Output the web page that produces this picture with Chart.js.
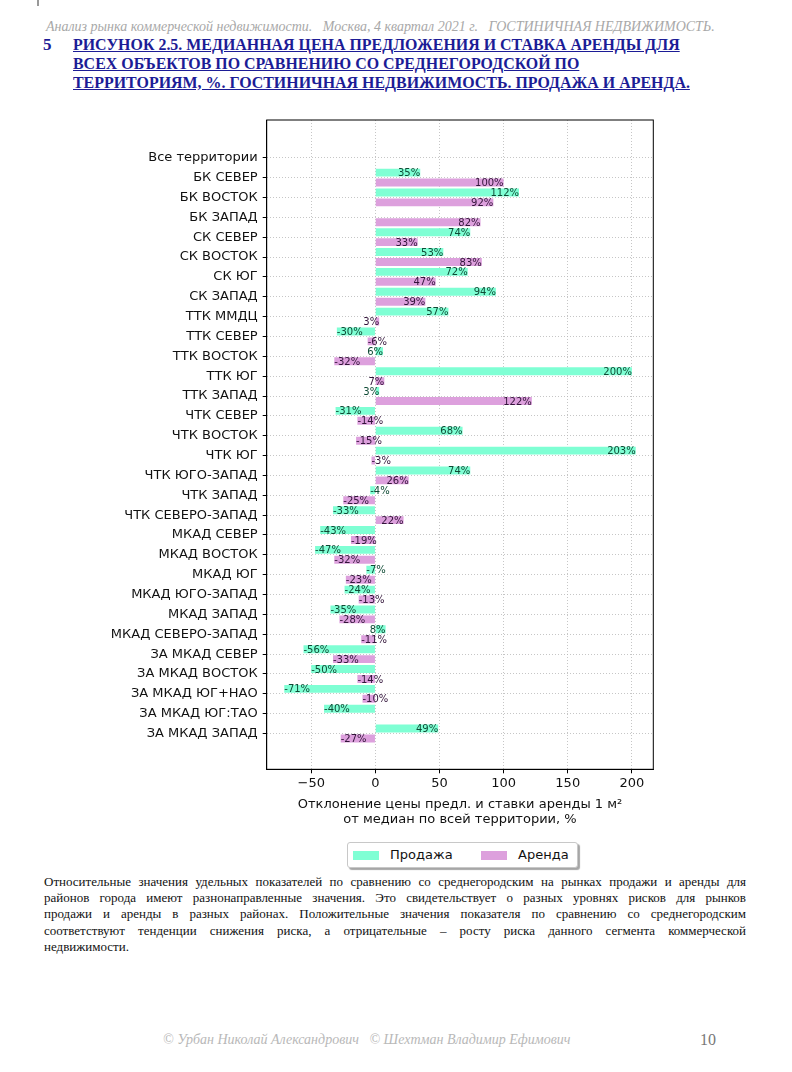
<!DOCTYPE html>
<html>
<head>
<meta charset="utf-8">
<script src="https://cdn.jsdelivr.net/npm/chart.js@4.4.1/dist/chart.umd.min.js"></script>
<style>
  body { margin: 0; background: #fff; }
  #page { position: relative; width: 792px; height: 1072px; overflow: hidden; }
  .mark { position: absolute; left: 37px; top: 0; width: 2px; height: 6px; background: #999; }
  .hdr { position: absolute; left: 46px; top: 19px; font: italic 14px "Liberation Serif", serif; color: #a8a8a8; white-space: pre; }
  .num { position: absolute; left: 43px; top: 35px; font: bold 17px "Liberation Serif", serif; color: #1c1c96; }
  .ttl { position: absolute; left: 73px; top: 35px; font: bold 17px "Liberation Serif", serif; color: #1c1c96; line-height: 19px; text-decoration: underline; white-space: pre; transform: scaleX(0.937); transform-origin: 0 0; }
  #wrap { position: absolute; left: 100px; top: 100px; width: 580px; height: 740px; }
  .legend { position: absolute; left: 347px; top: 842px; width: 229px; height: 24px; border: 1px solid #c8c8c8; border-radius: 3px; box-shadow: 2px 2px 1px rgba(0,0,0,0.35); background: #fff; font: 13px "DejaVu Sans", sans-serif; color: #111; }
  .sw { position: absolute; top: 8px; width: 26px; height: 9px; }
  .lt { position: absolute; top: 4px; }
  .para { position: absolute; left: 44px; top: 874px; width: 702px; font: 13px "Liberation Serif", serif; color: #111; line-height: 16.2px; }
  .para div { text-align: justify; text-align-last: justify; white-space: nowrap; }
  .para div.last { text-align-last: left; }
  .foot { position: absolute; left: 163px; top: 1032px; font: italic 14px "Liberation Serif", serif; color: #b8b8b8; white-space: pre; }
  .pg { position: absolute; left: 700px; top: 1031px; font: 16px "Liberation Serif", serif; color: #777; }
</style>
</head>
<body>
<div id="page">
  <div class="mark"></div>
  <div class="hdr">Анализ рынка коммерческой недвижимости.   Москва, 4 квартал 2021 г.   ГОСТИНИЧНАЯ НЕДВИЖИМОСТЬ.</div>
  <div class="num">5</div>
  <div class="ttl">РИСУНОК 2.5. МЕДИАННАЯ ЦЕНА ПРЕДЛОЖЕНИЯ И СТАВКА АРЕНДЫ ДЛЯ
ВСЕХ ОБЪЕКТОВ ПО СРАВНЕНИЮ СО СРЕДНЕГОРОДСКОЙ ПО
ТЕРРИТОРИЯМ, %. ГОСТИНИЧНАЯ НЕДВИЖИМОСТЬ. ПРОДАЖА И АРЕНДА.</div>
  <div id="wrap"><canvas id="myChart"></canvas></div>
  <div class="legend">
    <div class="sw" style="left:5px;background:#7fffd4"></div><div class="lt" style="left:42px">Продажа</div>
    <div class="sw" style="left:133px;background:#dda0dd"></div><div class="lt" style="left:170px">Аренда</div>
  </div>
  <div class="para">
    <div>Относительные значения удельных показателей по сравнению со среднегородским на рынках продажи и аренды для</div>
    <div>районов города имеют разнонаправленные значения. Это свидетельствует о разных уровнях рисков для рынков</div>
    <div>продажи и аренды в разных районах. Положительные значения показателя по сравнению со среднегородским</div>
    <div>соответствуют тенденции снижения риска, а отрицательные – росту риска данного сегмента коммерческой</div>
    <div class="last">недвижимости.</div>
  </div>
  <div class="foot">© Урбан Николай Александрович   © Шехтман Владимир Ефимович</div>
  <div class="pg">10</div>
</div>
<script>
var territories = ['Все территории', 'БК СЕВЕР', 'БК ВОСТОК', 'БК ЗАПАД', 'СК СЕВЕР', 'СК ВОСТОК', 'СК ЮГ', 'СК ЗАПАД',
    'ТТК ММДЦ', 'ТТК СЕВЕР', 'ТТК ВОСТОК', 'ТТК ЮГ', 'ТТК ЗАПАД', 'ЧТК СЕВЕР', 'ЧТК ВОСТОК', 'ЧТК ЮГ',
    'ЧТК ЮГО-ЗАПАД', 'ЧТК ЗАПАД', 'ЧТК СЕВЕРО-ЗАПАД', 'МКАД СЕВЕР', 'МКАД ВОСТОК', 'МКАД ЮГ', 'МКАД ЮГО-ЗАПАД',
    'МКАД ЗАПАД', 'МКАД СЕВЕРО-ЗАПАД', 'ЗА МКАД СЕВЕР', 'ЗА МКАД ВОСТОК', 'ЗА МКАД ЮГ+НАО', 'ЗА МКАД ЮГ:ТАО', 'ЗА МКАД ЗАПАД'];
var sale = [null, 35, 112, null, 74, 53, 72, 94, 57, -30, 6, 200, 3, -31, 68, 203,
    74, -4, -33, -43, -47, -7, -24, -35, 8, -56, -50, -71, -40, 49];
var rent = [null, 100, 92, 82, 33, 83, 47, 39, 3, -6, -32, 7, 122, -14, -15, -3,
    26, -25, 22, -19, -32, -23, -13, -28, -11, -33, -14, -10, null, -27];
var xTicks = [-50, 0, 50, 100, 150, 200];

function points(arr) {
    return arr.map(function (v, i) { return {x: v, y: i}; });
}

// value labels at the bar ends, like ax.text in the source
var barLabels = {
    id: 'barLabels',
    afterDatasetsDraw: function (chart) {
        var ctx = chart.ctx;
        var colors = ['#0e4a34', '#33143a'];
        ctx.save();
        ctx.font = '10px "DejaVu Sans"';
        ctx.textBaseline = 'middle';
        chart.data.datasets.forEach(function (ds, di) {
            var meta = chart.getDatasetMeta(di);
            meta.data.forEach(function (bar, i) {
                var v = ds.data[i].x;
                if (v === null) return;
                ctx.fillStyle = colors[di];
                ctx.textAlign = v >= 0 ? 'right' : 'left';
                ctx.fillText(v + '%', bar.x, bar.y + 1);
            });
        });
        ctx.restore();
    }
};

var frame = {
    id: 'frame',
    afterDraw: function (chart) {
        var a = chart.chartArea, ctx = chart.ctx;
        ctx.save();
        ctx.strokeStyle = '#000';
        ctx.lineWidth = 1;
        ctx.strokeRect(a.left, a.top, a.right - a.left, a.bottom - a.top);
        ctx.restore();
    }
};

Chart.defaults.font.family = 'DejaVu Sans';
Chart.defaults.color = '#111';

var ctx = document.getElementById('myChart').getContext('2d');
var chart = new Chart(ctx, {
    type: 'bar',
    data: {
        datasets: [{
            label: 'Продажа',
            data: points(sale),
            backgroundColor: '#7fffd4'
        }, {
            label: 'Аренда',
            data: points(rent),
            backgroundColor: '#dda0dd'
        }]
    },
    options: {
        indexAxis: 'y',
        responsive: true,
        maintainAspectRatio: false,
        animation: false,
        layout: {padding: {top: 20, right: 26.7, left: 0, bottom: 0}},
        datasets: {bar: {categoryPercentage: 1, barPercentage: 0.8}},
        plugins: {legend: {display: false}, tooltip: {enabled: false}},
        scales: {
            y: {
                type: 'linear',
                reverse: true,
                offset: false,
                min: -1.9,
                max: 30.8,
                afterFit: function (s) { s.width = 166.7; },
                afterBuildTicks: function (s) {
                    s.ticks = territories.map(function (t, i) { return {value: i}; });
                },
                ticks: {
                    autoSkip: false,
                    padding: 5,
                    color: '#111',
                    font: {size: 13},
                    callback: function (v) { return territories[v]; }
                },
                grid: {offset: false, color: '#b8b8b8', lineWidth: 0.8, tickColor: '#000', tickLength: 4, tickWidth: 1},
                border: {color: '#000', width: 1, dash: [1, 2]}
            },
            x: {
                type: 'linear',
                min: -84.7,
                max: 216.7,
                afterFit: function (s) { s.height = 70.7; },
                afterBuildTicks: function (s) {
                    s.ticks = xTicks.map(function (v) { return {value: v}; });
                },
                ticks: {
                    padding: 3,
                    color: '#111',
                    font: {size: 13},
                    maxRotation: 0,
                    callback: function (v) { return v < 0 ? '\u2212' + Math.abs(v) : '' + v; }
                },
                grid: {color: '#b8b8b8', lineWidth: 0.8, tickColor: '#000', tickLength: 4, tickWidth: 1},
                border: {color: '#000', width: 1, dash: [1, 2]},
                title: {
                    display: true,
                    text: ['Отклонение цены предл. и ставки аренды 1 м²', 'от медиан по всей территории, %'],
                    color: '#111',
                    font: {size: 13, lineHeight: 1.1},
                    padding: {top: 0, bottom: 13.5}
                }
            }
        }
    },
    plugins: [barLabels, frame]
});
</script>
</body>
</html>
